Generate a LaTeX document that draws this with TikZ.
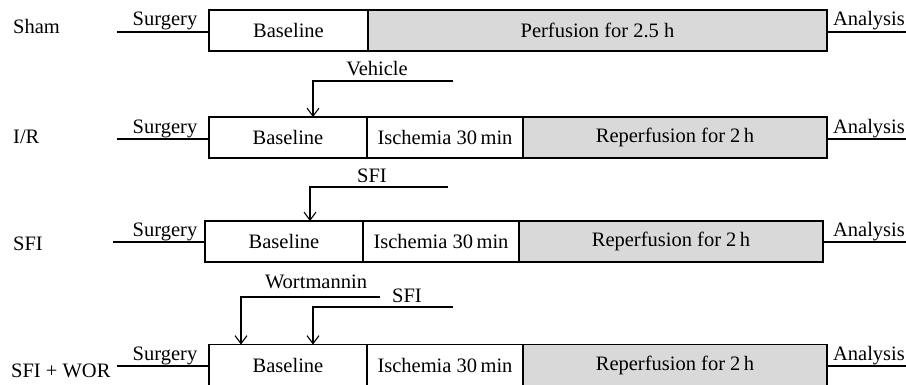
\documentclass[tikz,border=0pt]{standalone}
\usepackage{fontspec}
\setmainfont{Liberation Serif}
\usetikzlibrary{arrows.meta}
\definecolor{segfill}{gray}{0.85}
\begin{document}
\begin{tikzpicture}[x=1pt,y=-1pt,
  font=\fontsize{20.5}{24}\selectfont,
  seg/.style={draw, line width=1.2pt, anchor=north west, minimum height=41pt, inner sep=0pt, outer sep=0pt},
  gseg/.style={seg, fill=segfill},
  conn/.style={line width=1.1pt},
  arr/.style={line width=1.1pt, -{Straight Barb[length=8pt,width=12pt,line width=1.1pt]}},
  lab/.style={anchor=base west, inner sep=0pt},
  txt/.style={anchor=base, inner sep=0pt}]
\clip (0,0) rectangle (906,384);
\fill[white] (0,0) rectangle (906,384);

% ---------- Row 1: Sham ----------
\node[lab] (l1) at (13,33) {Sham};
\node[seg, minimum width=159pt] (a1) at (209,10) {Baseline};
\node[gseg, minimum width=459pt] (c1) at (368,10) {Perfusion for 2.5 h};
\coordinate (s1) at (117,32);
\coordinate (e1) at (906,32);
\draw[conn] (s1) -- (s1 -| a1.west);
\draw[conn] (e1 -| c1.east) -- (e1);
\node[txt] (sg1) at (165,25) {Surgery};
\node[txt] (an1) at (869,25) {Analysis};

% ---------- Row 2: I/R ----------
\node[lab] (l2) at (13,143) {I/R};
\node[seg, minimum width=158pt] (a2) at (209,117) {Baseline};
\node[seg, minimum width=156pt] (b2) at (367,117) {Ischemia 30\,min};
\node[gseg, minimum width=304pt] (c2) at (523,117) {Reperfusion for 2\,h};
\coordinate (s2) at (117,139);
\coordinate (e2) at (906,139);
\draw[conn] (s2) -- (s2 -| a2.west);
\draw[conn] (e2 -| c2.east) -- (e2);
\node[txt] (sg2) at (165,133) {Surgery};
\node[txt] (an2) at (869,133) {Analysis};
% Vehicle
\node[txt] (veh) at (377,75) {Vehicle};
\coordinate (v1) at (453,81);
\draw[arr] (v1) -| ([xshift=104pt]a2.north west);

% ---------- Row 3: SFI ----------
\node[lab] (l3) at (13,250) {SFI};
\node[seg, minimum width=158pt] (a3) at (205,221) {Baseline};
\node[seg, minimum width=156pt] (b3) at (363,221) {Ischemia 30\,min};
\node[gseg, minimum width=304pt] (c3) at (519,221) {Reperfusion for 2\,h};
\coordinate (s3) at (113,242);
\coordinate (e3) at (906,242);
\draw[conn] (s3) -- (s3 -| a3.west);
\draw[conn] (e3 -| c3.east) -- (e3);
\node[txt] (sg3) at (165,236) {Surgery};
\node[txt] (an3) at (869,236) {Analysis};
% SFI
\node[txt] (sfi1) at (372,182) {SFI};
\coordinate (f1) at (448,187);
\draw[arr] (f1) -| ([xshift=105pt]a3.north west);

% ---------- Row 4: SFI + WOR ----------
\node[lab] (l4) at (11,377) {SFI + WOR};
\node[seg, minimum width=158pt] (a4) at (209,344.5) {Baseline};
\node[seg, minimum width=156pt] (b4) at (367,344.5) {Ischemia 30\,min};
\node[gseg, minimum width=304pt] (c4) at (523,344.5) {Reperfusion for 2\,h};
\coordinate (s4) at (117,366);
\coordinate (e4) at (906,366);
\draw[conn] (s4) -- (s4 -| a4.west);
\draw[conn] (e4 -| c4.east) -- (e4);
\node[txt] (sg4) at (165,360) {Surgery};
\node[txt] (an4) at (869,360) {Analysis};
% Wortmannin and SFI
\node[txt] (wor) at (316,288) {Wortmannin};
\coordinate (w1) at (380,297);
\draw[arr] (w1) -| ([xshift=32pt]a4.north west);
\node[txt] (sfi2) at (407,302) {SFI};
\coordinate (f2) at (453,307);
\draw[arr] (f2) -| ([xshift=104pt]a4.north west);
\end{tikzpicture}
\end{document}
